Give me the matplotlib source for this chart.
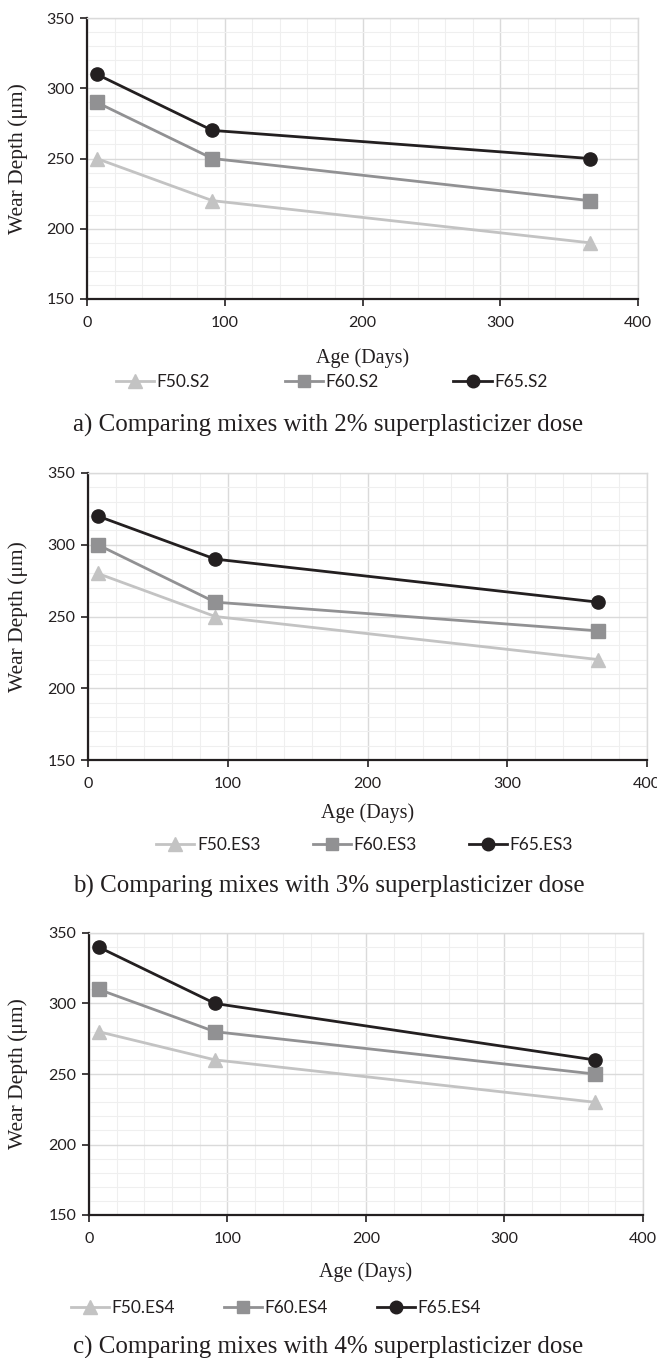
import numpy as np
import matplotlib.pyplot as plt
from matplotlib.ticker import MultipleLocator

# ages (days) and wear depth (um) per mix
age = [7, 91, 365]

a_F50 = [250, 220, 190]
a_F60 = [290, 250, 220]
a_F65 = [310, 270, 250]

b_F50 = [280, 250, 220]
b_F60 = [300, 260, 240]
b_F65 = [320, 290, 260]

c_F50 = [280, 260, 230]
c_F60 = [310, 280, 250]
c_F65 = [340, 300, 260]

names_a = ['F50.S2', 'F60.S2', 'F65.S2']
names_b = ['F50.ES3', 'F60.ES3', 'F65.ES3']
names_c = ['F50.ES4', 'F60.ES4', 'F65.ES4']

captions = ['a) Comparing mixes with 2% superplasticizer dose',
            'b) Comparing mixes with 3% superplasticizer dose',
            'c) Comparing mixes with 4% superplasticizer dose']

W, H = 657, 1358
fig = plt.figure(figsize=(W / 100, H / 100), dpi=100)

serif = 'Liberation Serif'
sans = 'Lato'

colors = ['#c3c3c3', '#919193', '#231f20']
markers = ['^', 's', 'o']
msizes = [10, 9.5, 9.5]

# pixel boxes: left, right, top, bottom ; xlabel y, legend y, caption y,
# legend centre x (fraction), legend column spacing
panels = [
    ((87, 638, 18, 299), 358, 382, 425, 0.505, 4.3, [a_F50, a_F60, a_F65], names_a),
    ((88, 647, 473, 760), 813, 845, 886, 0.555, 3.0, [b_F50, b_F60, b_F65], names_b),
    ((89, 643, 933, 1215), 1272, 1308, 1347, 0.42, 2.8, [c_F50, c_F60, c_F65], names_c),
]

def draw(box, xl_y, lg_y, cap_y, lg_x, cs, series, names, caption):
    l, r, t, b = box
    ax = fig.add_axes([l / W, 1 - b / H, (r - l) / W, (b - t) / H])
    for s, n, c, m, ms in zip(series, names, colors, markers, msizes):
        ax.plot(age, s, color=c, marker=m, markersize=ms, linewidth=2.0,
                label=n, clip_on=False, zorder=3)
    ax.set_xlim(0, 400)
    ax.set_ylim(150, 350)
    ax.xaxis.set_major_locator(MultipleLocator(100))
    ax.xaxis.set_minor_locator(MultipleLocator(20))
    ax.yaxis.set_major_locator(MultipleLocator(50))
    ax.yaxis.set_minor_locator(MultipleLocator(10))
    ax.grid(which='major', color='#dadada', linewidth=1.0)
    ax.grid(which='minor', color='#efefef', linewidth=0.8)
    ax.set_axisbelow(True)
    for sp in ['top', 'right']:
        ax.spines[sp].set_color('#dadada')
        ax.spines[sp].set_linewidth(1.0)
    for sp in ['left', 'bottom']:
        ax.spines[sp].set_color('#231f20')
        ax.spines[sp].set_linewidth(1.6)
    ax.tick_params(which='minor', length=0)
    ax.tick_params(which='major', length=5, width=1.2, color='#231f20',
                   labelsize=11.5, labelcolor='#231f20')
    ax.tick_params(axis='x', pad=7)
    ax.tick_params(axis='y', pad=4)
    for lab in ax.get_xticklabels() + ax.get_yticklabels():
        lab.set_fontfamily(sans)
    fig.text(18 / W, 1 - (t + b) / 2 / H, 'Wear Depth (\u03bcm)', fontfamily=serif,
             fontsize=15.5, rotation=90, ha='center', va='center', color='#231f20')
    fig.text((l + r) / 2 / W, 1 - xl_y / H, 'Age (Days)', fontfamily=serif,
             fontsize=14.5, ha='center', va='center', color='#231f20')
    fig.legend(*ax.get_legend_handles_labels(), loc='center',
               bbox_to_anchor=(lg_x, 1 - lg_y / H), ncol=3, frameon=False,
               prop={'family': sans, 'size': 12.5}, handlelength=2.2,
               handletextpad=0.15, columnspacing=cs, markerscale=0.95,
               labelcolor='#231f20')
    fig.text(0.5, 1 - cap_y / H, caption, fontfamily=serif, fontsize=18,
             ha='center', va='center', color='#231f20')

for (box, xl_y, lg_y, cap_y, lg_x, cs, series, names), cap in zip(panels, captions):
    draw(box, xl_y, lg_y, cap_y, lg_x, cs, series, names, cap)

fig.savefig('out.png', dpi=100)
